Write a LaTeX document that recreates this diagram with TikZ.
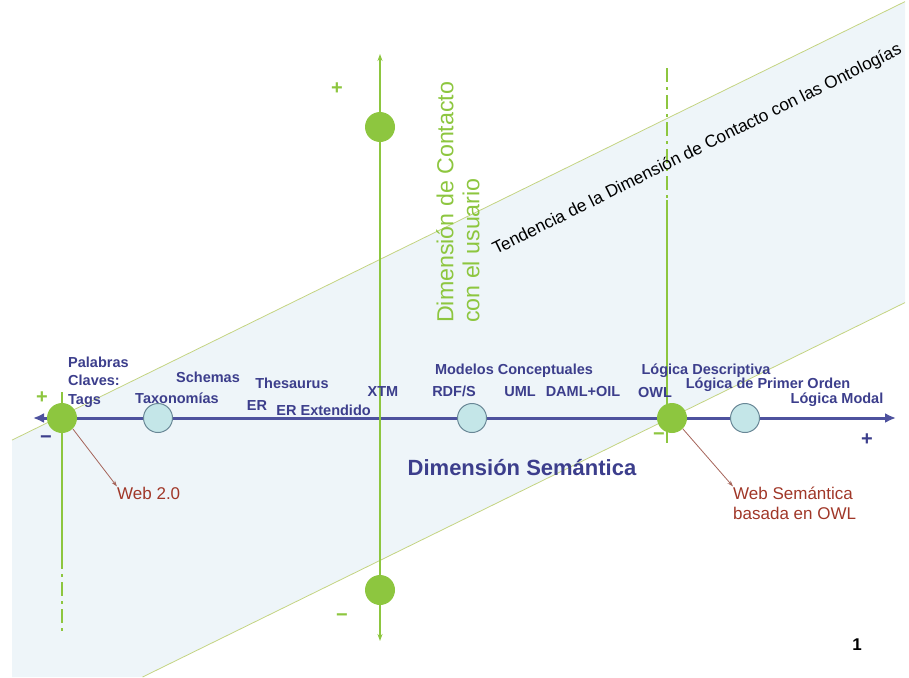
\documentclass[tikz,border=0pt]{standalone}
\usepackage{fontspec}
\setmainfont{Liberation Sans}
\usetikzlibrary{arrows.meta, positioning}

\definecolor{contactgreen}{RGB}{141,198,63}
\definecolor{semblue}{RGB}{60,62,140}
\definecolor{semline}{RGB}{78,82,158}
\definecolor{dotfill}{RGB}{196,230,232}
\definecolor{dotline}{RGB}{105,135,150}
\definecolor{bandfill}{RGB}{238,245,249}
\definecolor{bandline}{RGB}{196,212,130}
\definecolor{notered}{RGB}{160,55,40}
\definecolor{noteline}{RGB}{165,100,90}

\begin{document}
\begin{tikzpicture}[x=1pt, y=-1pt,
  every node/.style={inner sep=0pt},
  lbl/.style={font=\fontsize{14.5}{18.5}\selectfont\bfseries, text=semblue, anchor=base},
  gdot/.style={circle, fill=contactgreen, minimum size=30pt},
  cdot/.style={circle, draw=dotline, line width=1pt, fill=dotfill, minimum size=29pt},
  axis/.style={{Latex[length=11pt,width=10pt]}-{Latex[length=11pt,width=10pt]}, draw=semline, line width=3pt},
  vaxis/.style={{Stealth[length=7pt,width=5pt]}-{Stealth[length=7pt,width=5pt]}, draw=contactgreen, line width=2.5pt},
  guide/.style={draw=contactgreen, line width=2.5pt},
  guidedash/.style={guide, dash pattern=on 14pt off 5pt on 3pt off 5pt},
  note/.style={-{Stealth[length=6pt,width=4pt]}, draw=noteline, line width=0.8pt},
  notetext/.style={font=\fontsize{17}{20}\selectfont, text=notered, align=left},
  sign/.style={font=\fontsize{20}{20}\selectfont\bfseries}
]
\useasboundingbox (0,0) rectangle (909,677);

% Band of the trend
\coordinate (bandUL) at (12,440.1);
\coordinate (bandUR) at (905,1.6);
\coordinate (bandLR) at (905,302.6);
\coordinate (bandLL) at (142.6,677);
\fill[bandfill] (bandUL) -- (bandUR) -- (bandLR) -- (bandLL) -- (12,677) -- cycle;
\draw[bandline, line width=0.8pt] (bandUL) -- (bandUR);
\draw[bandline, line width=0.8pt] (bandLL) -- (bandLR);

% Semantic axis
\coordinate (semL) at (33,418);
\coordinate (semR) at (896,418);
\draw[axis] (semL) -- (semR);

% Contact axes
\coordinate (ctop) at (380,54);
\coordinate (cbot) at (380,641);
\draw[vaxis] (ctop) -- (cbot);

\coordinate (ltop) at (62,392);
\coordinate (lmid) at (62,555);
\coordinate (lbot) at (62,632);
\draw[guide] (ltop) -- (lmid);
\draw[guidedash] (lmid) -- (lbot);

\coordinate (rtop) at (667,68);
\coordinate (rmid) at (667,200);
\coordinate (rbot) at (667,443);
\draw[guidedash] (rtop) -- (rmid);
\draw[guide] (rmid) -- (rbot);

% Points
\node[gdot] (web2) at (62,418) {};
\node[cdot] (tax) at (158,418) {};
\node[cdot] (rdfs) at (472,418) {};
\node[gdot] (owl) at (672,418) {};
\node[cdot] (fol) at (745,418) {};
\node[gdot] (cplus) at (380,127) {};
\node[gdot] (cminus) at (380,590) {};

% Signs
\node[sign, text=contactgreen] (plusC) at (337,89) {+};
\node[sign, text=contactgreen] (minusC) at (342,618) {−};
\node[sign, text=contactgreen] (plusL) at (42,398) {+};
\node[sign, text=semblue] (minusL) at (46,440) {−};
\node[sign, text=semblue] (plusR) at (867,440) {+};
\node[sign, text=contactgreen] (minusR) at (659,437) {−};

% Labels along the axis
\node[lbl, anchor=west, align=left] (tags) at (68,382) {Palabras\\Claves:\\Tags};
\node[lbl] (schemas) at (208,382) {Schemas};
\node[lbl] (taxon) at (177,403) {Taxonomías};
\node[lbl] (thes) at (292,388) {Thesaurus};
\node[lbl] (er) at (257,410) {ER};
\node[lbl, anchor=base west, right=9pt of er.base east] (erext) {ER Extendido};
\node[lbl] (xtm) at (383,396) {XTM};
\node[lbl] (models) at (514,374) {Modelos Conceptuales};
\node[lbl] (rdf) at (454,396) {RDF/S};
\node[lbl] (uml) at (520,396) {UML};
\node[lbl] (daml) at (583,396) {DAML+OIL};
\node[lbl] (owllbl) at (655,397) {OWL};
\node[lbl] (desc) at (706,374) {Lógica Descriptiva};
\node[lbl] (first) at (768,388) {Lógica de Primer Orden};
\node[lbl] (modal) at (837,403) {Lógica Modal};

\node[font=\fontsize{22}{22}\selectfont\bfseries, text=semblue, anchor=base] (semdim) at (522,475) {Dimensión Semántica};

\node[rotate=90, anchor=north west, align=left, font=\fontsize{23.2}{26}\selectfont, text=contactgreen] (contactdim) at (436,323) {Dimensión de Contacto\\con el usuario};

\node[rotate=26.4, anchor=base west, font=\fontsize{17.3}{17.3}\selectfont] (trend) at (496,255) {Tendencia de la Dimensión de Contacto con las Ontologías};

% Notes
\node[notetext, anchor=base west] (w2lbl) at (117,499) {Web 2.0};
\node[notetext, anchor=west] (wslbl) at (733,503) {Web Semántica\\basada en OWL};
\draw[note] (web2.south east) -- (w2lbl.north west);
\draw[note] (owl.south east) -- (wslbl.north west);

\node[font=\fontsize{17}{17}\selectfont\bfseries, anchor=base] (pagenum) at (857,650) {1};
\end{tikzpicture}
\end{document}
